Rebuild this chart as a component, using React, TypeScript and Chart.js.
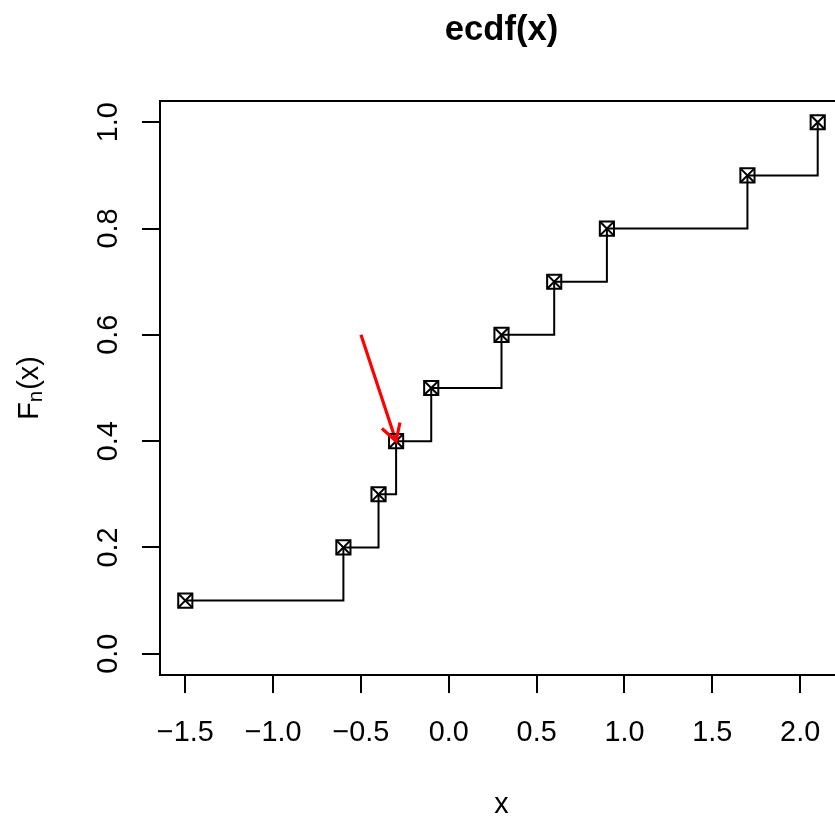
import React, { useEffect, useRef } from "react";
import { Chart, registerables } from "chart.js";

Chart.register(...registerables);

const titleText = "ecdf(x)";
const xAxisTitle = "x";
const xValues = [-1.5, -0.6, -0.4, -0.3, -0.1, 0.3, 0.6, 0.9, 1.7, 2.1];
const fnValues = [0.1, 0.2, 0.3, 0.4, 0.5, 0.6, 0.7, 0.8, 0.9, 1.0];
const xTicks = [-1.5, -1.0, -0.5, 0.0, 0.5, 1.0, 1.5, 2.0];
const xTickLabels = ["\u22121.5", "\u22121.0", "\u22120.5", "0.0", "0.5", "1.0", "1.5", "2.0"];
const yTicks = [0, 0.2, 0.4, 0.6, 0.8, 1.0];
const yTickLabels = ["0.0", "0.2", "0.4", "0.6", "0.8", "1.0"];
const arrowFrom = { x: -0.5, y: 0.6 };
const arrowTo = { x: -0.3, y: 0.4 };
const xLimits = [-1.644, 2.244];
const yLimits = [-0.04, 1.04];

const FONT = '"Liberation Sans", Arial, Helvetica, sans-serif';

export default function App() {
  const ref = useRef<HTMLCanvasElement | null>(null);

  useEffect(() => {
    const canvas = ref.current;
    if (!canvas) return;
    const points = xValues.map((x, i) => ({ x, y: fnValues[i] }));

    const decor = {
      id: "rDecor",
      afterDatasetsDraw(chart: any) {
        const ctx = chart.ctx as CanvasRenderingContext2D;
        const xs = chart.scales.x;
        const ys = chart.scales.y;
        const p0x = xs.getPixelForValue(arrowFrom.x);
        const p0y = ys.getPixelForValue(arrowFrom.y);
        const p1x = xs.getPixelForValue(arrowTo.x);
        const p1y = ys.getPixelForValue(arrowTo.y);
        const ang = Math.atan2(p1y - p0y, p1x - p0x);
        const len = 19;
        const spread = Math.PI / 6;
        ctx.save();
        ctx.strokeStyle = "#FF0000";
        ctx.lineWidth = 3.2;
        ctx.lineCap = "butt";
        ctx.beginPath();
        ctx.moveTo(p1x - len * Math.cos(ang - spread), p1y - len * Math.sin(ang - spread));
        ctx.lineTo(p1x, p1y);
        ctx.lineTo(p1x - len * Math.cos(ang + spread), p1y - len * Math.sin(ang + spread));
        ctx.stroke();
        ctx.restore();
      },
      afterDraw(chart: any) {
        const ctx = chart.ctx as CanvasRenderingContext2D;
        const a = chart.chartArea;
        const xs = chart.scales.x;
        const ys = chart.scales.y;
        ctx.save();
        ctx.strokeStyle = "#000";
        ctx.fillStyle = "#000";
        ctx.lineWidth = 2;
        ctx.strokeRect(a.left, a.top, a.right - a.left, a.bottom - a.top);
        ctx.beginPath();
        xTicks.forEach((v) => {
          const px = Math.round(xs.getPixelForValue(v));
          ctx.moveTo(px, a.bottom);
          ctx.lineTo(px, a.bottom + 18);
        });
        yTicks.forEach((v) => {
          const py = Math.round(ys.getPixelForValue(v));
          ctx.moveTo(a.left, py);
          ctx.lineTo(a.left - 18, py);
        });
        ctx.stroke();
        ctx.font = `28.8px ${FONT}`;
        ctx.textAlign = "center";
        ctx.textBaseline = "alphabetic";
        xTicks.forEach((v, i) => {
          ctx.fillText(xTickLabels[i], xs.getPixelForValue(v), 741);
        });
        yTicks.forEach((v, i) => {
          ctx.save();
          ctx.translate(117, ys.getPixelForValue(v));
          ctx.rotate(-Math.PI / 2);
          ctx.fillText(yTickLabels[i], 0, 0);
          ctx.restore();
        });
        ctx.fillText(xAxisTitle, (a.left + a.right) / 2, 813);
        const bigFont = `28.8px ${FONT}`;
        const subFont = `20.5px ${FONT}`;
        ctx.font = bigFont;
        const wF = ctx.measureText("F").width;
        const wRest = ctx.measureText("(x)").width;
        ctx.font = subFont;
        const wN = ctx.measureText("n").width;
        const total = wF + wN + 1 + wRest;
        ctx.save();
        ctx.translate(37.5, (a.top + a.bottom) / 2);
        ctx.rotate(-Math.PI / 2);
        ctx.textAlign = "left";
        let cx = -total / 2;
        ctx.font = bigFont;
        ctx.fillText("F", cx, 0);
        cx += wF;
        ctx.font = subFont;
        ctx.fillText("n", cx, 4);
        cx += wN + 1;
        ctx.font = bigFont;
        ctx.fillText("(x)", cx, 0);
        ctx.restore();
        ctx.font = `bold 34.6px ${FONT}`;
        ctx.textAlign = "center";
        ctx.fillText(titleText, (a.left + a.right) / 2, 40);
        ctx.restore();
      },
    };

    const chart = new Chart(canvas, {
      type: "scatter",
      data: {
        datasets: [
          {
            data: points,
            showLine: true,
            stepped: true,
            borderColor: "#000",
            borderWidth: 2,
            pointRadius: 0,
            fill: false,
          } as any,
          {
            data: points,
            showLine: false,
            pointStyle: "rect",
            pointRadius: 10,
            pointBorderWidth: 2,
            pointBorderColor: "#000",
            pointBackgroundColor: "rgba(0,0,0,0)",
            borderColor: "#000",
            backgroundColor: "rgba(0,0,0,0)",
          } as any,
          {
            data: points,
            showLine: false,
            pointStyle: "crossRot",
            pointRadius: 10,
            pointBorderWidth: 2,
            pointBorderColor: "#000",
            borderColor: "#000",
          } as any,
          {
            data: [arrowFrom, arrowTo],
            showLine: true,
            borderColor: "#FF0000",
            borderWidth: 3.2,
            pointRadius: 0,
          } as any,
        ],
      },
      options: {
        animation: false,
        responsive: false,
        devicePixelRatio: 1,
        layout: { padding: { left: 160, top: 101, right: 17, bottom: 146 } },
        plugins: { legend: { display: false }, tooltip: { enabled: false }, title: { display: false } },
        events: [],
        scales: {
          x: { type: "linear", min: xLimits[0], max: xLimits[1], display: false },
          y: { type: "linear", min: yLimits[0], max: yLimits[1], display: false },
        },
      },
      plugins: [decor],
    });
    return () => chart.destroy();
  }, []);

  return (
    <div
      style={{
        position: "fixed",
        left: 0,
        top: 0,
        width: 835,
        height: 821,
        overflow: "hidden",
        background: "#fff",
      }}
    >
      <canvas ref={ref} width={860} height={821} style={{ display: "block", width: 860, height: 821 }} />
    </div>
  );
}
